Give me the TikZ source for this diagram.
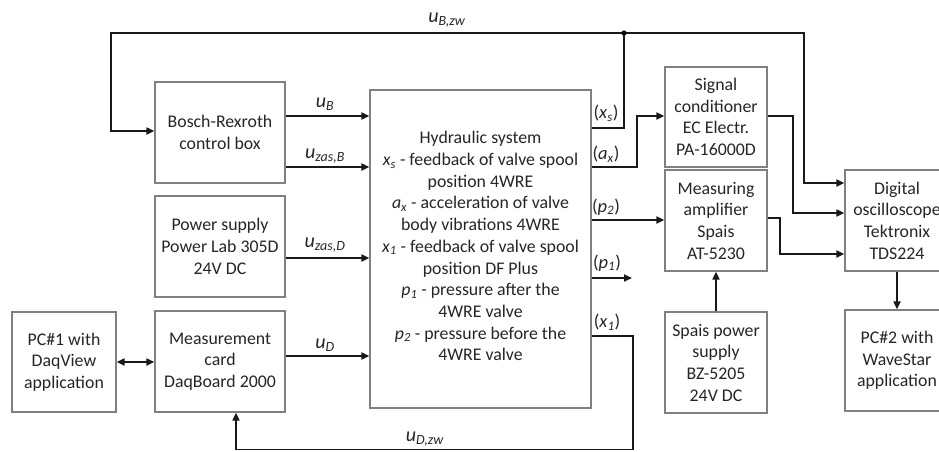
\documentclass[tikz,border=0pt]{standalone}
\usepackage{fontspec}
\setmainfont{Carlito}
\usetikzlibrary{arrows.meta,calc}
\newcommand{\vlab}[2]{\textit{#1}\textsubscript{\textit{#2}}}
\tikzset{
  box/.style={draw=black!50, line width=1.2pt, fill=white, align=center, text=black!85,
    inner sep=0pt, font=\fontsize{17.8}{21.7}\selectfont},
  conn/.style={line width=1.8pt, draw=black!90},
  arr/.style={conn, -{Triangle[length=8pt,width=7pt]}},
  darr/.style={conn, {Triangle[length=8pt,width=7pt]}-{Triangle[length=8pt,width=7pt]}},
  lbl/.style={font=\fontsize{18.5}{22}\selectfont, text=black!85, inner sep=0pt},
  ulbl/.style={font=\fontsize{20}{24}\selectfont, text=black!85, inner sep=0pt},
}
\begin{document}
\begin{tikzpicture}[x=1pt,y=-1pt]
\useasboundingbox (0,0) rectangle (939,451);
\clip (0,0) rectangle (939,451);

% boxes
\node[box, minimum width=130pt, minimum height=101pt] (bosch) at (220,132.5) {Bosch-Rexroth\\control box};
\node[box, minimum width=130pt, minimum height=101pt] (power) at (220,246.5) {Power supply\\Power Lab 305D\\24V DC};
\node[box, minimum width=130pt, minimum height=101pt] (meas) at (220,361.5) {Measurement\\card\\DaqBoard 2000};
\node[box, minimum width=104pt, minimum height=100pt] (pc1) at (64,362) {PC\#1 with\\DaqView\\application};
\node[box, minimum width=221pt, minimum height=318pt] (hyd) at (480.5,249) {Hydraulic system\\
\vlab{x}{s} - feedback of valve spool\\
position 4WRE\\
\vlab{a}{x} - acceleration of valve\\
body vibrations 4WRE\\
\vlab{x}{1} - feedback of valve spool\\
position DF Plus\\
\vlab{p}{1} - pressure after the\\
4WRE valve\\
\vlab{p}{2} - pressure before the\\
4WRE valve\\[-16pt]\mbox{}};
\node[box, minimum width=102pt, minimum height=100pt] (sig) at (716,117) {Signal\\conditioner\\EC Electr.\\PA-16000D};
\node[box, minimum width=102pt, minimum height=101pt] (amp) at (716,220.5) {Measuring\\amplifier\\Spais\\AT-5230};
\node[box, minimum width=102pt, minimum height=101pt] (spais) at (716,362.5) {Spais power\\supply\\BZ-5205\\24V DC};
\node[box, minimum width=104pt, minimum height=101pt] (osc) at (897,220.5) {Digital\\oscilloscope\\Tektronix\\TDS224};
\node[box, minimum width=104pt, minimum height=101pt] (pc2) at (897,360.5) {PC\#2 with\\WaveStar\\application};

% coordinates
\coordinate (junc) at (624,33);
\coordinate (p1end) at (632,278);

% connectors left
\draw[arr] (bosch.east |- 0,116) -- (hyd.west |- 0,116);
\draw[arr] (bosch.east |- 0,167) -- (hyd.west |- 0,167);
\draw[arr] (power.east |- 0,258) -- (hyd.west |- 0,258);
\draw[arr] (meas.east |- 0,356) -- (hyd.west |- 0,356);
\draw[darr] (pc1.east |- 0,362) -- (meas.west |- 0,362);

% feedback x_s to bosch and oscilloscope
\draw[arr] (hyd.east |- 0,128) -- (624,128) -- (junc) -- (111,33) -- (111,131) -- (bosch.west |- 0,131);
\draw[arr] (junc) -- (804,33) -- (804,183) -- (osc.west |- 0,183);
\fill[black] (junc) circle (2.6pt);

% a_x to signal conditioner
\draw[arr] (hyd.east |- 0,167) -- (637,167) -- (637,116) -- (sig.west |- 0,116);
% p_2 to amplifier
\draw[arr] (hyd.east |- 0,220) -- (amp.west |- 0,220);
% p_1 free
\draw[arr] (hyd.east |- 0,278) -- (p1end);
% x_1 back to measurement card
\draw[arr] (hyd.east |- 0,336) -- (633,336) -- (633,449.5) -- (236,449.5) -- (meas.south -| 236,0);

% to oscilloscope
\draw[arr] (sig.east |- 0,116) -- (793,116) -- (793,213) -- (osc.west |- 0,213);
\draw[arr] (amp.east |- 0,218) -- (780,218) -- (780,254) -- (osc.west |- 0,254);
% vertical
\draw[arr] (spais.north) -- (amp.south);
\draw[arr] (osc.south) -- (pc2.north);

% labels
\node[ulbl] at (447,20) {\vlab{u}{B,zw}};
\node[ulbl] at (325,104) {\vlab{u}{B}};
\node[ulbl] at (325,156) {\vlab{u}{zas,B}};
\node[ulbl] at (325,245) {\vlab{u}{zas,D}};
\node[ulbl] at (325,345) {\vlab{u}{D}};
\node[ulbl] at (425,439) {\vlab{u}{D,zw}};
\node[lbl] at (606,113) {(\vlab{x}{s})};
\node[lbl] at (606,154) {(\vlab{a}{x})};
\node[lbl] at (606,207) {(\vlab{p}{2})};
\node[lbl] at (607,263) {(\vlab{p}{1})};
\node[lbl] at (607,322) {(\vlab{x}{1})};
\end{tikzpicture}
\end{document}
